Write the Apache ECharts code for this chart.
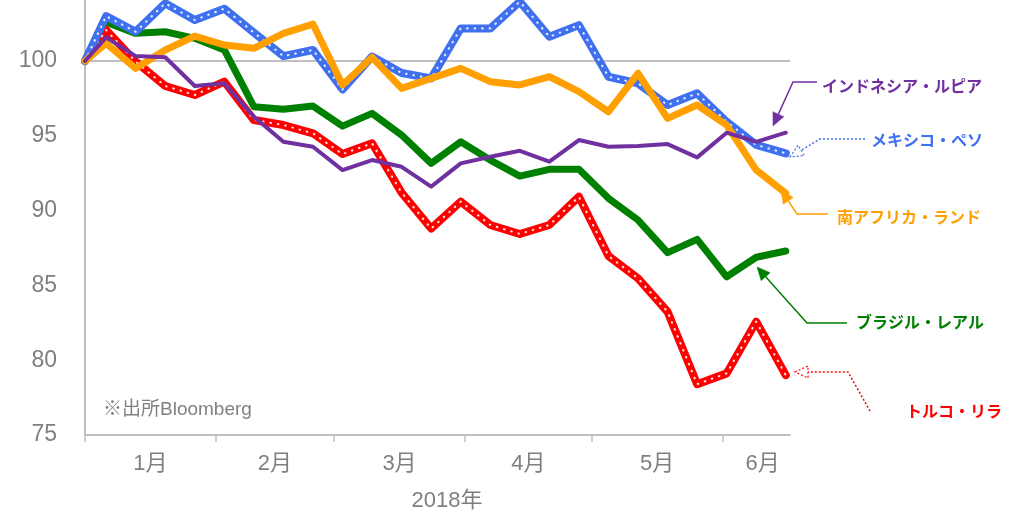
<!DOCTYPE html>
<html>
<head>
<meta charset="utf-8">
<script src="https://cdn.jsdelivr.net/npm/echarts@6/dist/echarts.min.js"></script>
<style>html,body{margin:0;padding:0;background:#fff}#c{width:1016px;height:514px}</style>
</head>
<body>
<div id="c"></div>
<script>
// ---- data ----
const dates = ['2018-01-01','2018-01-06','2018-01-13','2018-01-20','2018-01-27',
  '2018-02-03','2018-02-10','2018-02-17','2018-02-24',
  '2018-03-03','2018-03-10','2018-03-17','2018-03-24','2018-03-31',
  '2018-04-07','2018-04-14','2018-04-21','2018-04-28',
  '2018-05-05','2018-05-12','2018-05-19','2018-05-26',
  '2018-06-02','2018-06-09','2018-06-16'];
const mexico    = [100,103.0,101.96,103.86,102.74,103.5,101.9,100.33,100.74,98.1,100.3,99.2,98.84,102.18,102.18,103.97,101.62,102.4,98.95,98.5,97.06,97.84,95.94,94.39,93.83];
const safrica   = [100,101.18,99.51,100.74,101.67,101.07,100.85,101.85,102.47,98.4,100.25,98.17,98.84,99.51,98.62,98.4,98.95,97.95,96.61,99.18,96.17,97.06,95.72,92.71,91.16];
const brazil    = [100,102.6,101.85,101.96,101.52,100.74,96.95,96.77,96.99,95.65,96.5,95.05,93.16,94.6,93.38,92.31,92.76,92.76,90.82,89.37,87.19,88.08,85.58,86.88,87.3];
const indonesia = [100,101.58,100.33,100.25,98.33,98.51,96.28,94.6,94.27,92.71,93.38,92.93,91.6,93.16,93.6,94.0,93.27,94.72,94.27,94.32,94.45,93.56,95.21,94.6,95.21];
const turkey    = [100,102.07,99.96,98.33,97.73,98.62,96.06,95.72,95.17,93.78,94.5,91.2,88.8,90.6,89.04,88.44,89.04,90.93,86.97,85.47,83.24,78.4,79.12,82.58,79.0];
const monthStarts = ['2018-01-01','2018-02-01','2018-03-01','2018-04-01','2018-05-01','2018-06-01'];
const monthLabels = ['1月','2月','3月','4月','5月','6月'];
const monthLabelDays = [15.5, 45, 74.5, 105, 135.5, 160.5];
const axisEnd = '2018-06-17';
const yTicks = [75,80,85,90,95,100];
const seriesNames = ['ブラジル・レアル','トルコ・リラ','メキシコ・ペソ','南アフリカ・ランド','インドネシア・ルピア'];

function dayOf(s){const p=s.split('-').map(Number);return (Date.UTC(p[0],p[1]-1,p[2])-Date.UTC(2018,0,1))/86400000;}
const xs = dates.map(dayOf);
const pairs = arr => arr.map((v,i)=>[xs[i],v]);

const C = {green:'#008000', red:'#ff0000', blue:'#3f70f0', orange:'#ff9f00', purple:'#7030a0'};
const gray = '#7f7f7f';
const lineGray = '#c0c0c0';

function base(name, data, color, width, extra){
  return Object.assign({name, type:'line', data:pairs(data), symbol:'none', silent:true,
    lineStyle:{color, width, join:'round', cap:'round'}}, extra||{});
}
function dots(data){
  return {type:'line', data:pairs(data), symbol:'none', silent:true,
    lineStyle:{color:'rgba(255,255,255,0.85)', width:2.2, type:[0.5,7], cap:'round', join:'round'}};
}

const series = [
  base(seriesNames[0], brazil, C.green, 7, {markLine:{silent:true, z:1, symbol:'none', label:{show:false},
      lineStyle:{color:lineGray, width:2, type:'solid'}, data:[{yAxis:100}]}}),
  base(seriesNames[1], turkey, C.red, 8), dots(turkey),
  base(seriesNames[2], mexico, C.blue, 8), dots(mexico),
  base(seriesNames[3], safrica, C.orange, 7),
  base(seriesNames[4], indonesia, C.purple, 4)
];

// annotation arrows
function arrow(pts, color, dashed, filled){
  const n=pts.length, tip=pts[n-1], prev=pts[n-2];
  const dx=tip[0]-prev[0], dy=tip[1]-prev[1], L=Math.hypot(dx,dy), ux=dx/L, uy=dy/L;
  const hl=13, hw=6;
  const b=[tip[0]-ux*hl, tip[1]-uy*hl];
  const l=[b[0]-uy*hw, b[1]+ux*hw], r=[b[0]+uy*hw, b[1]-ux*hw];
  const linePts = pts.slice(0,n-1).concat([b]);
  const ls = dashed ? [2,2] : null;
  return [
    {type:'polyline', shape:{points:linePts}, style:{stroke:color, lineWidth:1.5, fill:null, lineDash:ls}, silent:true},
    {type:'polygon', shape:{points:[tip,l,r]}, style:{fill: filled?color:'rgba(255,255,255,0.6)', stroke:color, lineWidth: filled?0.5:1.2, lineDash:ls}, silent:true}
  ];
}
function label(text, x, y, color){
  return {type:'text', x, y, silent:true, style:{text, fill:color, font:"bold 16px 'Noto Sans CJK JP', sans-serif", align:'left', verticalAlign:'middle'}};
}
const graphics = [].concat(
  arrow([[817,82],[793,82],[773,126]], C.purple, false, true),
  arrow([[865,139],[820,139],[790,157]], C.blue, true, false),
  arrow([[828,214],[797,214],[781,190]], C.orange, false, true),
  arrow([[847,323],[807,323],[757,267]], C.green, false, true),
  arrow([[870,411],[848,372],[795,372]], C.red, true, false),
  [label(seriesNames[4], 822, 86, C.purple),
   label(seriesNames[2], 871, 140, C.blue),
   label(seriesNames[3], 837, 217, C.orange),
   label(seriesNames[0], 856, 322, C.green),
   label(seriesNames[1], 906, 411, C.red),
   {type:'text', x:103, y:410, silent:true, style:{text:'※出所Bloomberg', fill:'#808080', font:"19px 'Liberation Sans', 'Noto Sans CJK JP', sans-serif", verticalAlign:'middle'}},
   {type:'text', x:447, y:501, silent:true, style:{text:'2018年', fill:gray, font:"22px 'Liberation Sans', 'Noto Sans CJK JP', sans-serif", align:'center', verticalAlign:'middle'}}
  ]
);

const chart = echarts.init(document.getElementById('c'), null, {renderer:'canvas'});
chart.setOption({
  animation:false,
  backgroundColor:'#fff',
  grid:{left:85, right:226, top:0, bottom:79, containLabel:false},
  xAxis:{type:'value', min:0, max:dayOf(axisEnd),
    axisLine:{show:true, onZero:false, lineStyle:{color:lineGray, width:2}},
    axisTick:{show:true, length:7, lineStyle:{color:lineGray, width:1.5}, customValues:monthStarts.map(dayOf)},
    axisLabel:{show:true, margin:18, color:gray, fontSize:22, fontFamily:"'Liberation Sans', 'Noto Sans CJK JP', sans-serif",
      customValues:monthLabelDays, formatter:v=>{const i=monthLabelDays.indexOf(v);return i>=0?monthLabels[i]:'';}},
    splitLine:{show:false}},
  yAxis:{type:'value', min:75, max:104.08, interval:5,
    axisLine:{show:true, lineStyle:{color:lineGray, width:2}},
    axisTick:{show:false},
    axisLabel:{margin:28, color:gray, fontSize:23, fontFamily:"'Liberation Sans', sans-serif",
      customValues:yTicks, formatter:v=>yTicks.indexOf(v)>=0?String(v):''},
    splitLine:{show:false}},
  series,
  graphic:graphics
});
</script>
</body>
</html>
